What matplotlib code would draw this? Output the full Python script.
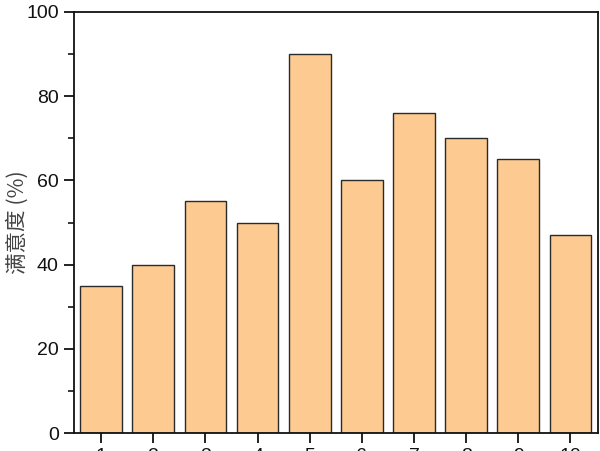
import matplotlib
matplotlib.use("Agg")
import matplotlib.pyplot as plt
from matplotlib.ticker import MultipleLocator

categories = [1, 2, 3, 4, 5, 6, 7, 8, 9, 10]
values = [35, 40, 55, 50, 90, 60, 76, 70, 65, 47]
ylabel = "满意度 (%)"

plt.rcParams['font.family'] = ['Liberation Sans', 'Noto Sans CJK SC', 'DejaVu Sans']

fig = plt.figure(figsize=(6, 4.51), dpi=100)
ax = fig.add_axes([74/600, 18/451, 524/600, 421/451])
ax.bar(categories, values, width=0.8, color='#FDCB91', edgecolor='#2a2a2a', linewidth=1.0)
ax.set_xlim(0.48, 10.53)
ax.set_ylim(0, 100)
ax.yaxis.set_major_locator(MultipleLocator(20))
ax.yaxis.set_minor_locator(MultipleLocator(10))
ax.set_xticks(categories)
ax.set_xticklabels([str(c) for c in categories])
ax.tick_params(axis='both', which='major', direction='out', length=7, width=1.3, labelsize=14, colors='#111111', pad=4)
ax.tick_params(axis='y', which='minor', direction='out', length=4, width=1.1)
ax.tick_params(axis='x', pad=4)
for s in ax.spines.values():
    s.set_linewidth(1.3)
    s.set_color('#111111')
ax.set_ylabel(ylabel, fontsize=15.5, color='#444444', family=['Noto Sans CJK SC', 'DejaVu Sans'])
ax.yaxis.set_label_coords(-0.086, 0.5)
fig.savefig("out.png", dpi=100)
